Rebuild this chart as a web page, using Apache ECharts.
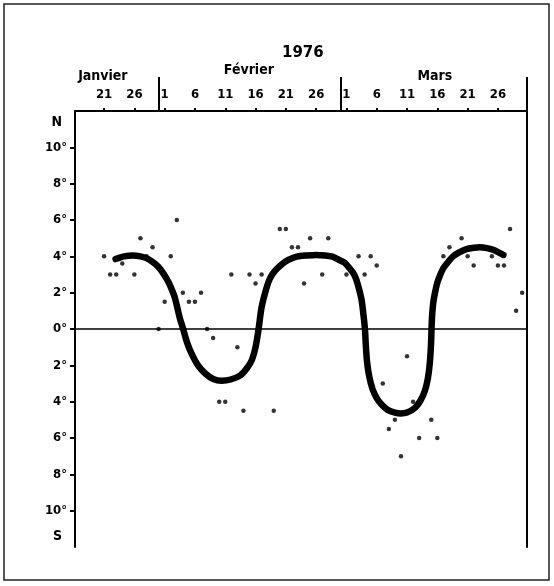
<!DOCTYPE html>
<html>
<head>
<meta charset="utf-8">
<script src="https://cdn.jsdelivr.net/npm/echarts@6/dist/echarts.min.js"></script>
<style>
  html, body { margin: 0; padding: 0; background: #fff; }
  #chart { width: 554px; height: 586px; }
</style>
</head>
<body>
<div id="chart"></div>
<script>
// jours comptés en continu : 21 = 21 janv, 31 = 1 fév, 61 = 1 mars
var dayTicks = [21, 26, 31, 36, 41, 46, 51, 56, 61, 66, 71, 76, 81, 86];
var dayLabels = ['21', '26', '1', '6', '11', '16', '21', '26', '1', '6', '11', '16', '21', '26'];
var monthCenters = [20.8, 44.9, 75.6];
var monthNames = ['Janvier', 'Février', 'Mars'];
var monthBreaks = [30, 60, 90.8];

// observations (points)
var obsDays = [21, 22, 23, 24, 26, 27, 28, 29, 30, 31, 32, 33, 34, 35, 36, 37, 38, 39, 40, 41,
  42, 43, 44, 45, 46, 47, 49, 50, 51, 52, 53, 54, 55, 57, 58, 61, 63, 64, 65, 66,
  67, 68, 69, 70, 71, 72, 73, 75, 76, 77, 78, 80, 81, 82, 85, 86, 87, 88, 89, 90];
var obsValues = [4, 3, 3, 3.6, 3, 5, 4, 4.5, 0, 1.5, 4, 6, 2, 1.5, 1.5, 2, 0, -0.5, -4, -4,
  3, -1, -4.5, 3, 2.5, 3, -4.5, 5.5, 5.5, 4.5, 4.5, 2.5, 5, 3, 5, 3, 4, 3, 4, 3.5,
  -3, -5.5, -5, -7, -1.5, -4, -6, -5, -6, 4, 4.5, 5, 4, 3.5, 4, 3.5, 3.5, 5.5, 1, 2];

// courbe lissée
var curveDays = [22.9, 24.3, 25.8, 27.0, 28.0, 29.0, 29.9, 30.8, 31.6, 32.2, 32.7, 33.5, 34.05, 34.7,
  35.5, 36.5, 37.7, 39.0, 40.4, 41.9, 43.5, 44.6, 45.4, 46.0, 46.5, 47.0, 47.8, 48.4, 49.2,
  50.3, 51.4, 52.8, 54.5, 56.0, 57.5, 58.7, 59.8, 60.7, 61.5, 62.1, 62.6, 63.0, 63.5, 63.8,
  64.05, 64.2, 64.4, 64.75, 65.3, 66.0, 66.8, 67.8, 69.0, 70.0, 71.0, 72.3, 73.2, 73.95,
  74.45, 74.75, 74.95, 75.05, 75.15, 75.35, 75.65, 76.0, 76.5, 77.0, 77.8, 78.6, 79.6, 80.8,
  82.0, 83.0, 84.2, 85.2, 86.1, 86.9];
var curveValues = [3.85, 4.0, 4.05, 4.0, 3.9, 3.7, 3.44, 3.05, 2.6, 2.15, 1.7, 0.6, 0, -0.75,
  -1.4, -2.0, -2.45, -2.75, -2.85, -2.78, -2.55, -2.15, -1.7, -1.0, 0, 1.2, 2.25, 2.8, 3.2,
  3.55, 3.8, 3.98, 4.05, 4.08, 4.05, 3.98, 3.8, 3.65, 3.35, 3.1, 2.75, 2.3, 1.6, 0.8,
  0, -0.9, -1.8, -2.6, -3.3, -3.8, -4.16, -4.45, -4.6, -4.65, -4.6, -4.34, -3.95, -3.4,
  -2.7, -1.9, -0.9, 0.05, 0.8, 1.5, 2.05, 2.55, 3.0, 3.35, 3.7, 4.0, 4.22, 4.4,
  4.47, 4.5, 4.45, 4.36, 4.22, 4.08];

var latTicks = [-10, -8, -6, -4, -2, 0, 2, 4, 6, 8, 10];
var poleTicks = [11.4, -11.4];
var poleNames = ['N', 'S'];

var narrow = "'Liberation Sans Narrow', 'DejaVu Sans Condensed', sans-serif";
var xMin = 16.2, xMax = 90.8;

function pairs(xs, ys) {
  return xs.map(function (x, i) { return [x, ys[i]]; });
}

var chart = echarts.init(document.getElementById('chart'));
var option = {
  backgroundColor: '#fff',
  animation: false,
  title: {
    text: '1976',
    left: 277,
    top: 41,
    textStyle: { fontFamily: 'DejaVu Sans', fontWeight: 'bold', fontSize: 15, color: '#000' }
  },
  graphic: [{
    type: 'rect',
    shape: { x: 4, y: 4, width: 545, height: 576 },
    style: { fill: 'none', stroke: '#222', lineWidth: 1.5 }
  }],
  grid: { left: 75, right: 27, top: 111, bottom: 39 },
  xAxis: [
    {
      // jours
      type: 'value', position: 'top', min: xMin, max: xMax,
      axisLine: { onZero: false, lineStyle: { color: '#000', width: 2 } },
      axisTick: { customValues: dayTicks, length: 3, lineStyle: { color: '#000', width: 2 } },
      axisLabel: {
        customValues: dayTicks, margin: 10,
        formatter: function (v) { return dayLabels[dayTicks.indexOf(v)]; },
        fontFamily: narrow, fontWeight: 'bold', fontSize: 13, color: '#000'
      },
      splitLine: { show: false }
    },
    {
      // séparations des mois
      type: 'value', position: 'top', min: xMin, max: xMax,
      axisLine: { show: false, onZero: false },
      axisTick: { customValues: monthBreaks, length: 34, lineStyle: { color: '#000', width: 2 } },
      axisLabel: { show: false },
      splitLine: { show: false }
    },
    {
      // noms des mois
      type: 'value', position: 'top', min: xMin, max: xMax,
      axisLine: { show: false, onZero: false },
      axisTick: { show: false },
      axisLabel: {
        customValues: monthCenters, margin: 28,
        formatter: function (v) {
          var name = monthNames[monthCenters.indexOf(v)];
          return name === 'Février' ? '{up|' + name + '}' : name;
        },
        rich: { up: { padding: [0, 0, 6, 0], fontFamily: narrow, fontWeight: 'bold', fontSize: 14, color: '#000' } },
        fontFamily: narrow, fontWeight: 'bold', fontSize: 14, color: '#000'
      },
      splitLine: { show: false }
    }
  ],
  yAxis: [
    {
      type: 'value', min: -12, max: 12, interval: 2, position: 'left',
      axisLine: { show: true, onZero: false, lineStyle: { color: '#000', width: 2 } },
      axisTick: { show: true, customValues: latTicks, length: 5, lineStyle: { color: '#000', width: 2 } },
      axisLabel: {
        customValues: latTicks, margin: 8,
        formatter: function (v) { return Math.abs(v) + '°'; },
        fontFamily: narrow, fontWeight: 'bold', fontSize: 13, color: '#000'
      },
      splitLine: { show: false }
    },
    {
      type: 'value', min: -12, max: 12, position: 'left',
      axisLine: { show: false, onZero: false },
      axisTick: { show: false },
      axisLabel: {
        customValues: poleTicks, margin: 13,
        formatter: function (v) { return poleNames[poleTicks.indexOf(v)]; },
        fontFamily: narrow, fontWeight: 'bold', fontSize: 14, color: '#000'
      },
      splitLine: { show: false }
    },
    {
      type: 'value', min: -12, max: 12, position: 'right',
      axisLine: { show: true, onZero: false, lineStyle: { color: '#000', width: 2 } },
      axisTick: { show: false },
      axisLabel: { show: false },
      splitLine: { show: false }
    }
  ],
  series: [
    {
      type: 'scatter',
      symbolSize: 4.5,
      itemStyle: { color: '#000' },
      data: pairs(obsDays, obsValues),
      markLine: {
        silent: true,
        symbol: 'none',
        label: { show: false },
        lineStyle: { color: '#000', width: 1.5, type: 'solid' },
        data: [{ yAxis: 0 }]
      }
    },
    {
      type: 'line',
      smooth: 0.3,
      showSymbol: false,
      lineStyle: { color: '#000', width: 6.5, cap: 'round', join: 'round' },
      data: pairs(curveDays, curveValues)
    }
  ]
};
chart.setOption(option);
</script>
</body>
</html>
